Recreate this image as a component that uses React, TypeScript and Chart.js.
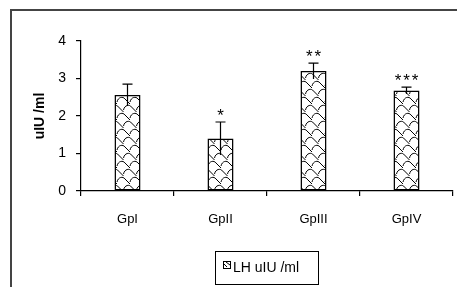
import React, { useEffect, useRef } from "react";
import { Chart, registerables } from "chart.js";

Chart.register(...registerables);

const categories = ["GpI", "GpII", "GpIII", "GpIV"];
const lhValues = [2.56, 1.4, 3.2, 2.68];
const lhErrors = [0.29, 0.44, 0.21, 0.09];
const sigMarks = ["", "*", "**", "***"];
const yTicks = [0, 1, 2, 3, 4];
const seriesLabel = "LH uIU /ml";
const yTitle = "uIU /ml";

function makePattern(): CanvasPattern | string {
  const W = 13;
  const H = 16;
  const c = document.createElement("canvas");
  c.width = W;
  c.height = H;
  const g = c.getContext("2d");
  if (!g) return "#fff";
  g.fillStyle = "#fff";
  g.fillRect(0, 0, W, H);
  g.strokeStyle = "#000";
  g.lineWidth = 1;
  const cell = (x0: number, y0: number) => {
    g.beginPath();
    g.moveTo(x0, y0 + 6);
    g.bezierCurveTo(x0 + 1, y0 + 1, x0 + 6, y0, x0 + 8, y0 + 3);
    g.lineTo(x0 + 13, y0 + 8);
    g.stroke();
  };
  for (const dx of [-13, 0, 13]) {
    for (const dy of [-16, 0, 16]) {
      cell(dx, dy);
      cell(dx + 6.5, dy + 8);
    }
  }
  return g.createPattern(c, "repeat") || "#fff";
}

export default function App() {
  const ref = useRef<HTMLCanvasElement>(null);
  useEffect(() => {
    const canvas = ref.current;
    if (!canvas) return;
    const pattern = makePattern();
    const font = "'Liberation Sans', Arial, sans-serif";

    const overlay = {
      id: "overlay",
      afterDatasetsDraw(chart: any) {
        const ctx = chart.ctx;
        const meta = chart.getDatasetMeta(0);
        const ys = chart.scales.y;
        ctx.save();
        ctx.strokeStyle = "#000";
        ctx.lineWidth = 1.2;
        meta.data.forEach((bar: any, i: number) => {
          const x = bar.x;
          const top = ys.getPixelForValue(lhValues[i] + lhErrors[i]);
          const bot = ys.getPixelForValue(lhValues[i] - lhErrors[i]);
          ctx.beginPath();
          ctx.moveTo(x, bot);
          ctx.lineTo(x, top);
          ctx.moveTo(x - 5, top);
          ctx.lineTo(x + 5, top);
          ctx.stroke();
          const n = sigMarks[i].length;
          ctx.fillStyle = "#000";
          ctx.font = "17px " + font;
          ctx.textAlign = "center";
          ctx.textBaseline = "middle";
          for (let k = 0; k < n; k++) {
            const sx = x + (k - (n - 1) / 2) * 8.5;
            ctx.fillText("*", sx, top - 6);
          }
        });
        ctx.restore();
      },
      afterDraw(chart: any) {
        const ctx = chart.ctx;
        ctx.save();
        ctx.strokeStyle = "#444";
        ctx.lineWidth = 2;
        ctx.strokeRect(11, 10, 460, 300);
        ctx.strokeStyle = "#000";
        ctx.lineWidth = 1;
        ctx.strokeRect(215.5, 251.5, 103, 33);
        ctx.fillStyle = "#fff";
        ctx.fillRect(223, 261, 8, 8);
        ctx.strokeRect(223.5, 261.5, 7, 7);
        ctx.beginPath();
        ctx.moveTo(224, 264);
        ctx.lineTo(227, 267);
        ctx.moveTo(226, 262);
        ctx.lineTo(230, 265);
        ctx.stroke();
        ctx.fillStyle = "#000";
        ctx.font = "14px " + font;
        ctx.textAlign = "left";
        ctx.textBaseline = "middle";
        ctx.fillText(seriesLabel, 233, 268);
        ctx.restore();
      },
    };

    const chart = new Chart(canvas, {
      type: "bar",
      data: {
        labels: categories,
        datasets: [
          {
            label: seriesLabel,
            data: lhValues,
            backgroundColor: pattern as any,
            borderColor: "#000",
            borderWidth: 1.5,
            borderSkipped: false,
            categoryPercentage: 1,
            barPercentage: 0.28,
          },
        ],
      },
      options: {
        responsive: false,
        animation: false,
        layout: { padding: { left: 0, right: 4, top: 41, bottom: 0 } },
        plugins: { legend: { display: false }, tooltip: { enabled: false } },
        scales: {
          x: {
            border: { color: "#000", width: 1.2 },
            grid: { offset: true, drawOnChartArea: false, drawTicks: true, tickLength: 5, color: "#000", lineWidth: 1.2 },
            ticks: { color: "#000", padding: 16, font: { size: 13, family: font } },
            afterFit: (s: any) => { s.height = 96; },
          },
          y: {
            min: 0,
            max: 4,
            afterBuildTicks: (s: any) => { s.ticks = yTicks.map((v) => ({ value: v })); },
            border: { color: "#000", width: 1.2 },
            grid: { drawOnChartArea: false, drawTicks: true, tickLength: 5, color: "#000", lineWidth: 1.2 },
            ticks: { color: "#000", padding: 10, font: { size: 14, family: font } },
            title: { display: true, text: yTitle, color: "#000", font: { size: 14, weight: "bold", family: font }, padding: { top: 32, bottom: 0 } },
            afterFit: (s: any) => { s.width = 81; },
          },
        },
      },
      plugins: [overlay],
    });
    return () => chart.destroy();
  }, []);
  return (
    <div style={{ position: "fixed", left: 0, top: 0, width: 457, height: 287, background: "#fff" }}>
      <canvas ref={ref} width={457} height={287} />
    </div>
  );
}
